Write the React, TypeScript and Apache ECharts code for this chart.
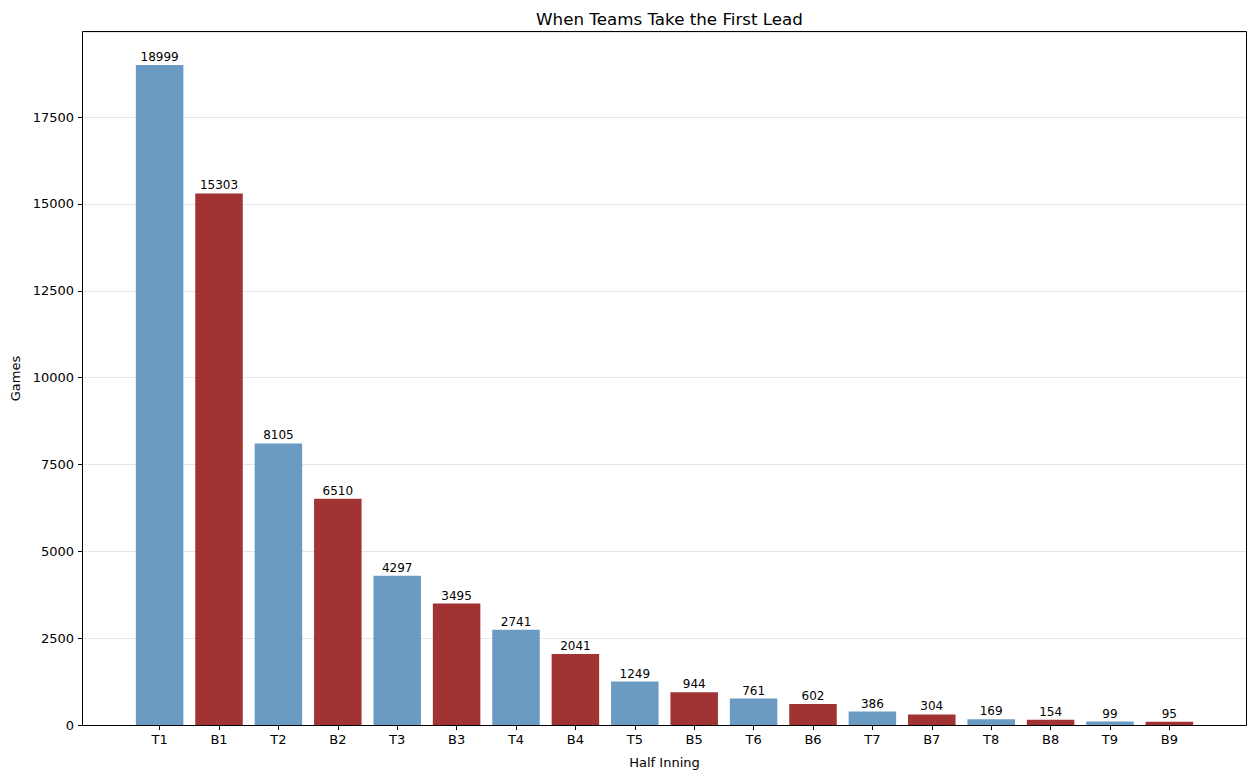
import React, { useEffect, useRef } from "react";
import * as echarts from "echarts";

const categories = ["T1", "B1", "T2", "B2", "T3", "B3", "T4", "B4", "T5", "B5", "T6", "B6", "T7", "B7", "T8", "B8", "T9", "B9"];
const games = [18999, 15303, 8105, 6510, 4297, 3495, 2741, 2041, 1249, 944, 761, 602, 386, 304, 169, 154, 99, 95];
const yTicks = [0, 2500, 5000, 7500, 10000, 12500, 15000, 17500];

const BLUE = "#6b9bc3";
const RED = "#a23333";
const FONT = "DejaVu Sans";

export default function App() {
  const ref = useRef<HTMLDivElement>(null);
  useEffect(() => {
    if (!ref.current) return;
    const chart = echarts.init(ref.current, null, { renderer: "svg" });
    const yMax = Math.max(...games) * 1.05;
    const L = 83, T = 32, W = 1163, H = 693;
    const n = categories.length;
    // matplotlib spacing: data span (n-1)+0.8, plus 5% margins each side
    const unit = W / ((n - 1 + 0.8) * 1.1);
    const innerLeft = L + (0.4 + (n - 1 + 0.8) * 0.05) * unit - 0.5 * unit;
    const innerWidth = unit * n;
    chart.setOption({
      animation: false,
      textStyle: { fontFamily: FONT },
      title: {
        text: "When Teams Take the First Lead",
        left: L + W / 2,
        textAlign: "center",
        top: 5,
        textStyle: { fontFamily: FONT, fontSize: 16.7, fontWeight: "normal", color: "#000" },
      },
      graphic: [
        {
          type: "rect",
          z: 100,
          silent: true,
          shape: { x: L - 0.5, y: T - 0.5, width: W + 1, height: H + 1 },
          style: { fill: "none", stroke: "#000", lineWidth: 1 },
        },
      ],
      grid: [
        { left: L, top: T, width: W, height: H, show: false },
        { left: innerLeft, top: T, width: innerWidth, height: H },
      ],
      xAxis: [
        {
          gridIndex: 0, type: "value", min: 0, max: 1, show: true,
          axisLine: { show: false }, axisTick: { show: false }, axisLabel: { show: false }, splitLine: { show: false },
          name: "Half Inning", nameLocation: "middle", nameGap: 31,
          nameTextStyle: { fontFamily: FONT, fontSize: 13, color: "#000" },
        },
        {
          gridIndex: 1, type: "category", data: categories,
          axisLine: { show: false },
          axisTick: { show: true, alignWithLabel: true, length: 5, lineStyle: { color: "#000" } },
          axisLabel: { fontFamily: FONT, fontSize: 13, color: "#000", margin: 8 },
        },
      ],
      yAxis: [
        {
          gridIndex: 0, type: "value", min: 0, max: yMax, interval: 2500,
          axisLine: { show: false },
          axisTick: { show: true, length: 5, lineStyle: { color: "#000" } },
          axisLabel: {
            fontFamily: FONT, fontSize: 13, color: "#000", margin: 9,
            showMaxLabel: false,
            formatter: (v: number) => (yTicks.includes(v) ? String(v) : ""),
          },
          splitLine: { show: true, lineStyle: { color: "#e6e6e6", width: 1 } },
          name: "Games", nameLocation: "middle", nameGap: 60, nameRotate: 90,
          nameTextStyle: { fontFamily: FONT, fontSize: 13, color: "#000" },
        },
        { gridIndex: 1, type: "value", min: 0, max: yMax, show: false },
      ],
      series: [
        {
          type: "bar",
          xAxisIndex: 1,
          yAxisIndex: 1,
          barWidth: "80%",
          data: games.map((v, i) => ({
            value: v,
            itemStyle: { color: categories[i].startsWith("T") ? BLUE : RED },
          })),
          label: {
            show: true, position: "top", distance: 2,
            fontFamily: FONT, fontSize: 12, color: "#000",
          },
        },
      ],
    });
    return () => chart.dispose();
  }, []);
  return <div ref={ref} style={{ position: "fixed", left: 0, top: 0, width: 1255, height: 778, background: "#fff" }} />;
}
